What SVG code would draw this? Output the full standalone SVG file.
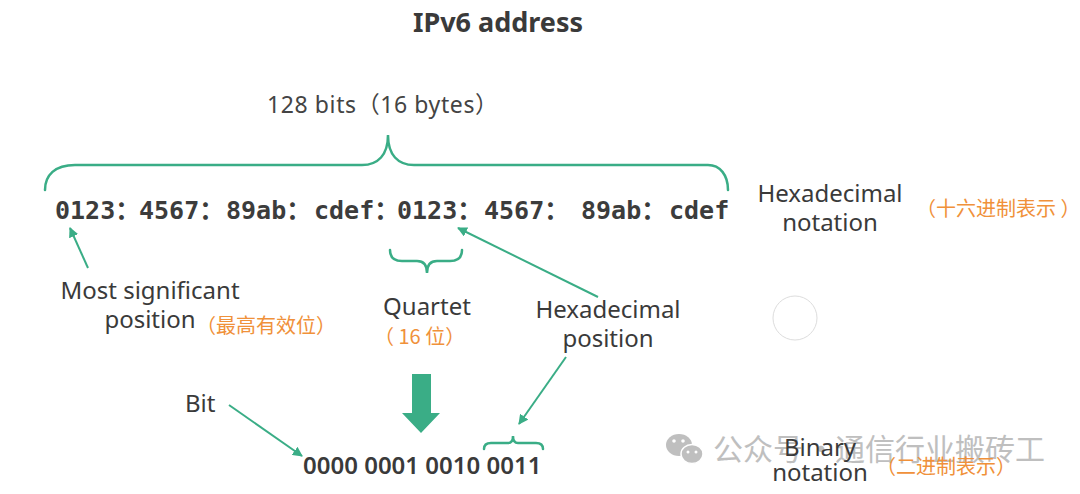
<svg xmlns="http://www.w3.org/2000/svg" width="1080" height="494" viewBox="0 0 1080 494">
<style>
.lbl{font-family:"Noto Sans","Noto Sans CJK SC",sans-serif;font-size:24px;fill:#3a3a3a}
.cn{font-family:"Noto Sans CJK SC",sans-serif;font-size:20px;fill:#f0913a}
.hex{font-family:"DejaVu Sans Mono","Noto Sans CJK SC",monospace;font-weight:bold;font-size:25px;fill:#3c3c3c}
.br{fill:none;stroke:#3aad86;stroke-width:2.5;stroke-linecap:round}
.ar{fill:none;stroke:#3aad86;stroke-width:2}
.wm{font-family:"Noto Sans CJK SC",sans-serif;font-size:30px;fill:#b4b4b4}
</style>
<defs>
<marker id="ah" viewBox="0 0 10 10" refX="9" refY="5" markerWidth="5" markerHeight="5" orient="auto" markerUnits="strokeWidth">
<path d="M0,0 L10,5 L0,10 z" fill="#3aad86"/>
</marker>
</defs>
<rect width="1080" height="494" fill="#ffffff"/>

<g id="title">
<text x="498" y="32" text-anchor="middle" style="font-family:'Noto Sans',sans-serif;font-weight:bold;font-size:27px;fill:#3a3a3a">IPv6 address</text>
</g>

<g id="bits-label">
<text x="267" y="113" style="font-family:'Noto Sans','Noto Sans CJK SC',sans-serif;font-size:23px;letter-spacing:0.6px;fill:#444">128 bits（16 bytes）</text>
</g>

<g id="big-brace">
<path class="br" d="M45,190 C45,175 55,165 75,165 L362,165 C378,165 388,155 388,135 C388,155 398,165 414,165 L708,165 C720,165 728,175 728,190"/>
</g>

<g id="hex-address">
<text class="hex" y="219"><tspan x="55">0123：</tspan><tspan x="139">4567：</tspan><tspan x="226">89ab：</tspan><tspan x="314">cdef：</tspan><tspan x="397">0123：</tspan><tspan x="484">4567：</tspan><tspan x="581">89ab：</tspan><tspan x="669">cdef</tspan></text>
</g>

<g id="hex-notation">
<text class="lbl" x="830" y="202" text-anchor="middle">Hexadecimal</text>
<text class="lbl" x="830" y="231" text-anchor="middle">notation</text>
<text class="cn" x="916" y="216">（十六进制表示 ）</text>
</g>

<g id="most-significant">
<text class="lbl" x="150" y="299" text-anchor="middle">Most significant</text>
<text class="lbl" x="150" y="328" text-anchor="middle">position</text>
<text class="cn" x="196" y="333">（最高有效位）</text>
</g>

<g id="quartet">
<path class="br" d="M390,250 C390,257 394,261 402,261 L417,261 C424,261 427,265 427,273 C427,265 430,261 437,261 L450,261 C458,261 462,257 462,250"/>
<text class="lbl" x="427" y="315" text-anchor="middle">Quartet</text>
<text class="cn" x="374" y="344">（ 16 位）</text>
</g>

<g id="hex-position">
<text class="lbl" x="608" y="318" text-anchor="middle">Hexadecimal</text>
<text class="lbl" x="608" y="347" text-anchor="middle">position</text>
</g>

<g id="circle">
<circle cx="795" cy="318" r="22" fill="#fff" stroke="#dddddd" stroke-width="1"/>
</g>

<g id="down-arrow">
<path d="M412,374 L431,374 L431,413 L440,413 L421,433 L402,413 L412,413 z" fill="#3aad86"/>
</g>

<g id="bit">
<text class="lbl" x="185" y="412">Bit</text>
</g>

<g id="binary">
<path class="br" d="M484,449 C484,445 486,443 491,443 L508,443 C511,443 513,441 513,436 C513,441 515,443 518,443 L536,443 C541,443 543,445 543,449"/>
<text x="303" y="474" style="font-family:'Noto Sans',sans-serif;font-weight:600;font-size:24px;fill:#3a3a3a">0000 0001 0010 0011</text>
</g>

<g id="watermark" opacity="0.85">
<ellipse cx="679" cy="445" rx="13" ry="11" fill="#b4b4b4"/>
<ellipse cx="692" cy="454" rx="11" ry="9.5" fill="#b4b4b4" stroke="#fff" stroke-width="1.5"/>
<circle cx="674" cy="441" r="1.8" fill="#fff"/>
<circle cx="683" cy="441" r="1.8" fill="#fff"/>
<circle cx="688" cy="452" r="1.5" fill="#fff"/>
<circle cx="696" cy="452" r="1.5" fill="#fff"/>
<text class="wm" y="460"><tspan x="713">公众号</tspan><tspan x="806">·</tspan><tspan x="835">通信行业搬砖工</tspan></text>
</g>

<g id="binary-notation">
<text class="lbl" x="820" y="456" text-anchor="middle">Binary</text>
<text class="lbl" x="820" y="481" text-anchor="middle">notation</text>
<text class="cn" x="876" y="474">（二进制表示）</text>
</g>

<g id="connectors">
<line class="ar" x1="88" y1="268" x2="70" y2="228" marker-end="url(#ah)"/>
<line class="ar" x1="598" y1="297" x2="458" y2="228" marker-end="url(#ah)"/>
<line class="ar" x1="566" y1="357" x2="519" y2="424" marker-end="url(#ah)"/>
<line class="ar" x1="229" y1="405" x2="302" y2="456" marker-end="url(#ah)"/>
</g>
</svg>
